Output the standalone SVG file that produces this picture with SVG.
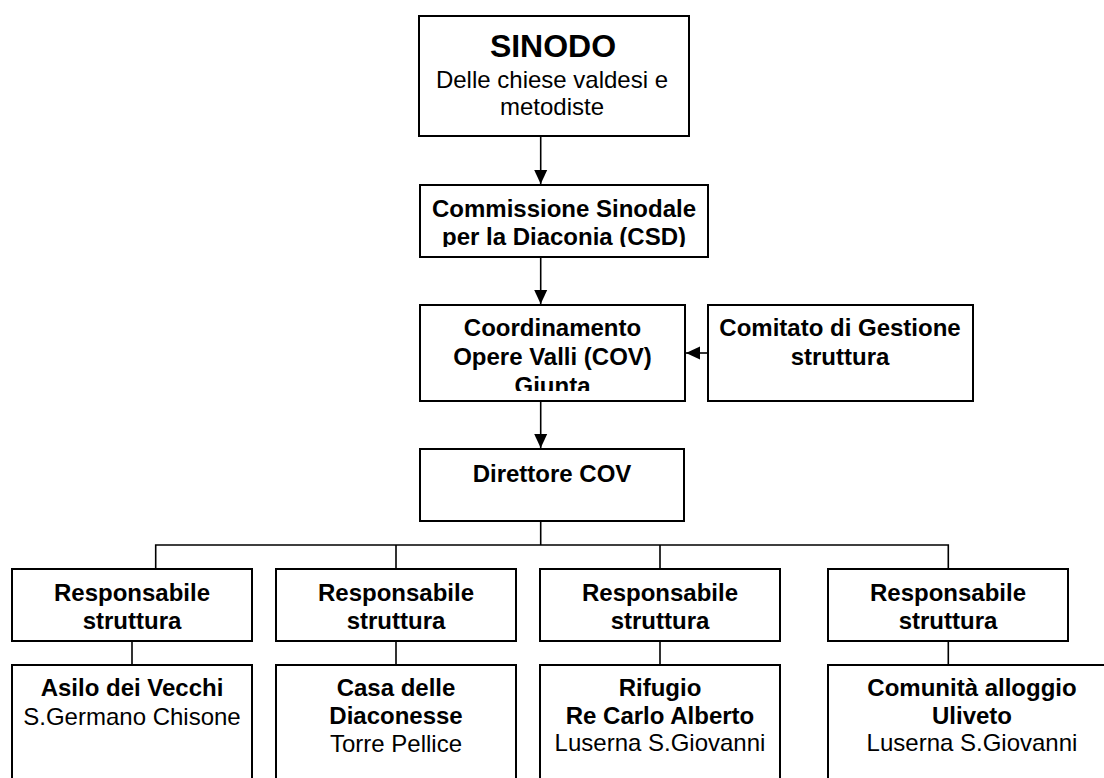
<svg xmlns="http://www.w3.org/2000/svg" width="1104" height="778" viewBox="0 0 1104 778">
<style>
.box{fill:#fff;stroke:#000;stroke-width:2}
.ln{fill:none;stroke:#000;stroke-width:1.6}
text{font-family:"Liberation Sans",Arial,sans-serif;font-size:24px;fill:#000;text-anchor:middle}
.b{font-weight:bold}
.t{font-weight:bold;font-size:32px}
</style>
<defs>
<marker id="ah" markerUnits="userSpaceOnUse" markerWidth="14" markerHeight="14" viewBox="0 0 14 14" refX="14" refY="7" orient="auto">
<path d="M0,0.5 L14,7 L0,13.5 Z" fill="#000"/>
</marker>
<clipPath id="clipCsd"><rect x="420" y="185" width="288" height="62"/></clipPath>
<clipPath id="clipCov"><rect x="420" y="305" width="265" height="86"/></clipPath>
</defs>
<rect width="1104" height="778" fill="#fff"/>
<g id="connectors">
<line class="ln" x1="540.7" y1="136" x2="540.7" y2="184" marker-end="url(#ah)"/>
<line class="ln" x1="540.7" y1="257" x2="540.7" y2="304" marker-end="url(#ah)"/>
<line class="ln" x1="540.7" y1="401" x2="540.7" y2="448" marker-end="url(#ah)"/>
<line class="ln" x1="708" y1="353" x2="686" y2="353" marker-end="url(#ah)"/>
<path class="ln" d="M540.7,521 V545 M155.7,569 V545 H948.3 V569 M396,545 V569 M660,545 V569"/>
<path class="ln" d="M132,641 V665 M396,641 V665 M660,641 V665 M948.3,641 V665"/>
</g>
<g id="sinodo">
<rect class="box" x="419" y="16" width="270" height="120"/>
<text class="t" x="553" y="57">SINODO</text>
<text x="552" y="88">Delle chiese valdesi e</text>
<text x="552" y="115">metodiste</text>
</g>
<g id="csd">
<rect class="box" x="420" y="185" width="288" height="72"/>
<g clip-path="url(#clipCsd)">
<text class="b" x="564" y="217">Commissione Sinodale</text>
<text class="b" x="564" y="245">per la Diaconia (CSD)</text>
</g>
</g>
<g id="cov">
<rect class="box" x="420" y="305" width="265" height="96"/>
<g clip-path="url(#clipCov)">
<text class="b" x="552.5" y="336">Coordinamento</text>
<text class="b" x="552.5" y="365">Opere Valli (COV)</text>
<text class="b" x="552.5" y="394">Giunta</text>
</g>
</g>
<g id="comitato">
<rect class="box" x="708" y="305" width="265" height="96"/>
<text class="b" x="840" y="336">Comitato di Gestione</text>
<text class="b" x="840" y="365">struttura</text>
</g>
<g id="direttore">
<rect class="box" x="420" y="449" width="264" height="72"/>
<text class="b" x="552" y="482">Direttore COV</text>
</g>
<g id="resp1">
<rect class="box" x="12" y="569" width="240" height="72"/>
<text class="b" x="132" y="601">Responsabile</text>
<text class="b" x="132" y="629">struttura</text>
</g>
<g id="resp2">
<rect class="box" x="276" y="569" width="240" height="72"/>
<text class="b" x="396" y="601">Responsabile</text>
<text class="b" x="396" y="629">struttura</text>
</g>
<g id="resp3">
<rect class="box" x="540" y="569" width="240" height="72"/>
<text class="b" x="660" y="601">Responsabile</text>
<text class="b" x="660" y="629">struttura</text>
</g>
<g id="resp4">
<rect class="box" x="828" y="569" width="240" height="72"/>
<text class="b" x="948" y="601">Responsabile</text>
<text class="b" x="948" y="629">struttura</text>
</g>
<g id="asilo">
<rect class="box" x="12" y="665" width="240" height="140"/>
<text class="b" x="132" y="696">Asilo dei Vecchi</text>
<text x="132" y="725">S.Germano Chisone</text>
</g>
<g id="casa">
<rect class="box" x="276" y="665" width="240" height="140"/>
<text class="b" x="396" y="696">Casa delle</text>
<text class="b" x="396" y="724">Diaconesse</text>
<text x="396" y="752">Torre Pellice</text>
</g>
<g id="rifugio">
<rect class="box" x="540" y="665" width="240" height="140"/>
<text class="b" x="660" y="696">Rifugio</text>
<text class="b" x="660" y="724">Re Carlo Alberto</text>
<text x="660" y="751">Luserna S.Giovanni</text>
</g>
<g id="uliveto">
<rect class="box" x="828" y="665" width="288" height="140"/>
<text class="b" x="972" y="696">Comunità alloggio</text>
<text class="b" x="972" y="724">Uliveto</text>
<text x="972" y="751">Luserna S.Giovanni</text>
</g>
</svg>
